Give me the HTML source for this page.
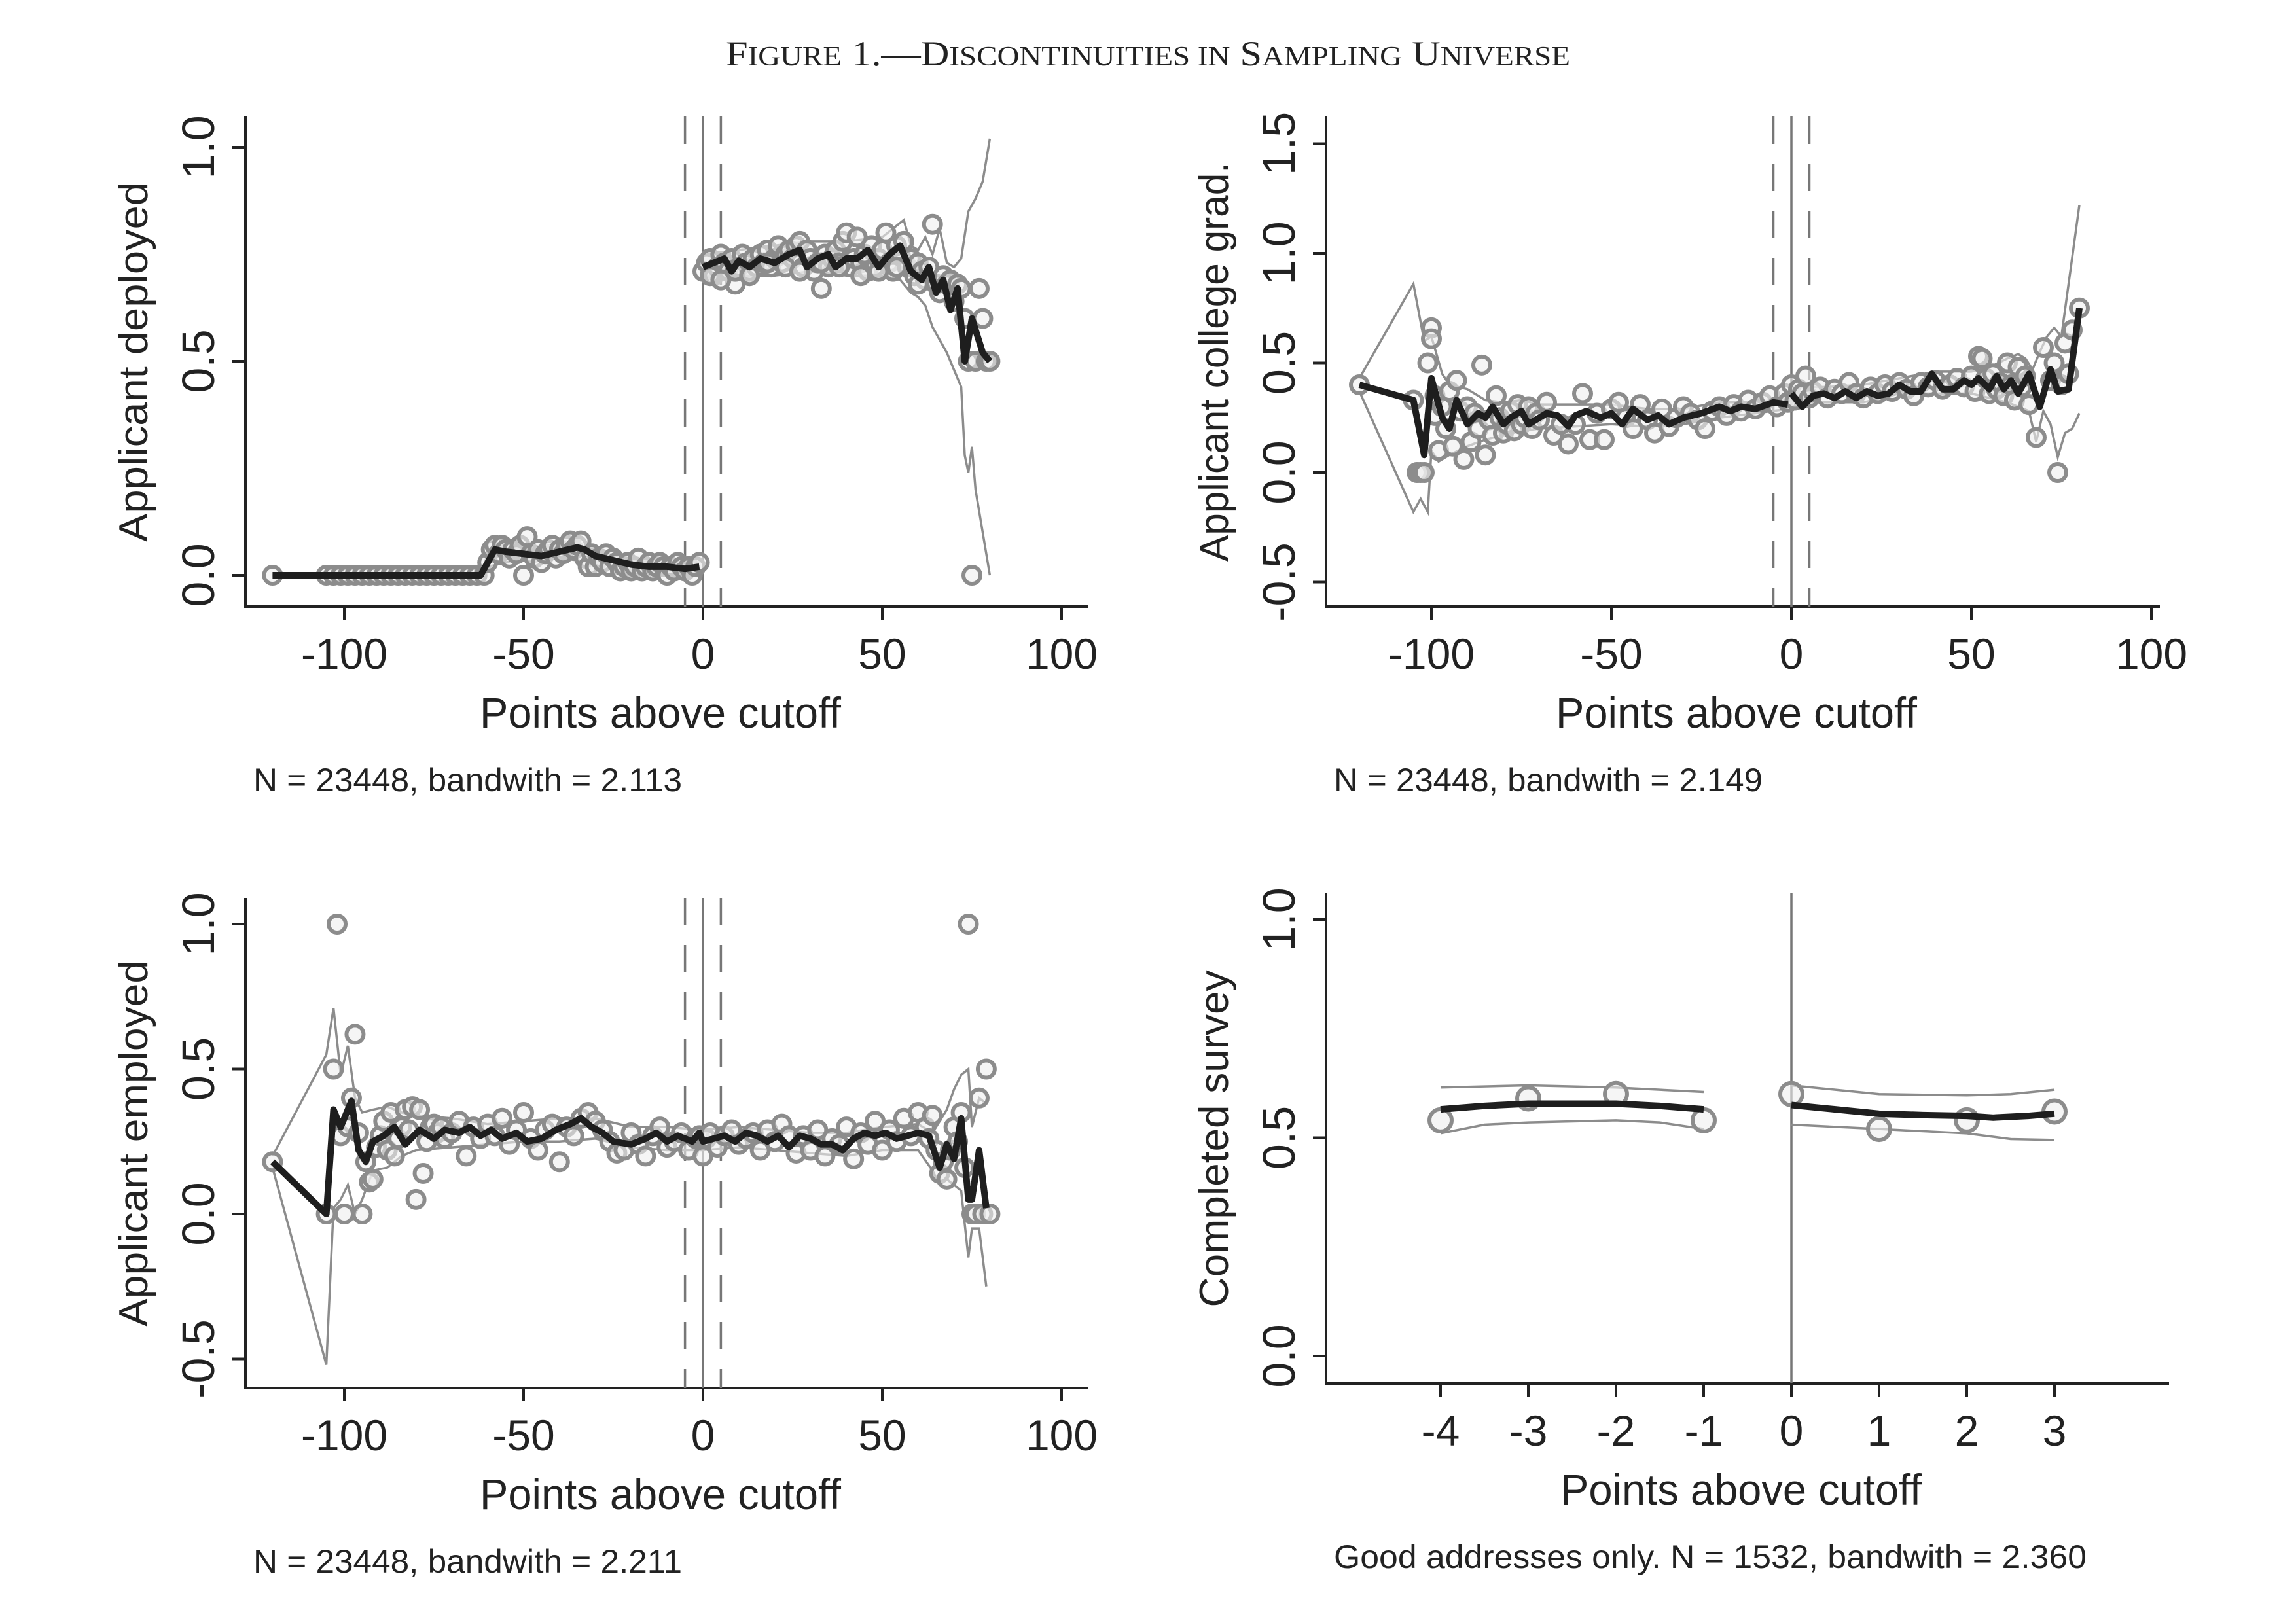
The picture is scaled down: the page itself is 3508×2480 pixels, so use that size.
<!DOCTYPE html>
<html><head><meta charset="utf-8"><title>Figure 1 — Discontinuities in Sampling Universe</title>
<style>
html,body{margin:0;padding:0;background:#fff;}
svg{display:block;}
text{fill:#222;}
.tk{font-family:"Liberation Sans Narrow","Liberation Sans",sans-serif;font-size:66px;}
.ytk{font-family:"Liberation Sans",sans-serif;font-size:70px;}
.yt{font-family:"Liberation Sans",sans-serif;font-size:62px;}
.at{font-family:"Liberation Sans Narrow","Liberation Sans",sans-serif;font-size:66px;}
.nt{font-family:"Liberation Sans Narrow","Liberation Sans",sans-serif;font-size:50px;}
</style></head>
<body>
<svg id="fig" width="3508" height="2480" viewBox="0 0 3508 2480" xmlns="http://www.w3.org/2000/svg">
<text x="1754" y="100" text-anchor="middle" font-family="'Liberation Serif',serif" font-size="54" textLength="1290" lengthAdjust="spacingAndGlyphs">F<tspan font-size="42">IGURE</tspan> 1.—D<tspan font-size="42">ISCONTINUITIES IN</tspan> S<tspan font-size="42">AMPLING</tspan> U<tspan font-size="42">NIVERSE</tspan></text>
</svg>
<script>
// ---------- Panel 1: Applicant deployed ----------
const p1ScatterX = [-120,-105,-103,-101,-99,-97,-95,-93,-91,-89,-87,-85,-83,-81,-79,-77,-75,-73,-71,-69,-67,-65,-63,-61,
 -60,-59,-58,-57,-56,-55,-54,-53,-52,-51,-50,-49,-48,-47,-46,-45,-44,-43,-42,-41,-40,-39,-38,-37,-36,-35,-34,-33,-32,-31,-30,-29,-28,-27,-26,-25,-24,-23,-22,-21,-20,-19,-18,-17,-16,-15,-14,-13,-12,-11,-10,-9,-8,-7,-6,-5,-4,-3,-2,-1,
 0,1,2,3,4,5,6,7,8,9,10,11,12,13,14,15,16,17,18,19,20,21,22,23,24,25,26,27,28,29,30,31,32,33,34,35,36,37,38,39,40,41,42,43,44,45,46,47,48,49,50,51,52,53,54,55,56,57,58,59,60,61,62,63,64,65,66,67,68,69,70,71,72,73,74,75,76,77,78,79,80,
 2,5,9,13,18,23,27,33,38,44,49,54,60];
const p1ScatterY = [0,0,0,0,0,0,0,0,0,0,0,0,0,0,0,0,0,0,0,0,0,0,0,0,
 0.03,0.06,0.07,0.05,0.07,0.06,0.04,0.06,0.05,0.07,0.0,0.09,0.05,0.04,0.06,0.03,0.05,0.06,0.07,0.04,0.06,0.05,0.07,0.08,0.06,0.07,0.08,0.04,0.02,0.05,0.02,0.04,0.03,0.05,0.02,0.04,0.03,0.01,0.02,0.03,0.01,0.02,0.04,0.01,0.02,0.03,0.01,0.02,0.03,0.02,0.0,0.02,0.01,0.03,0.02,0.01,0.02,0.0,0.02,0.03,
 0.71,0.73,0.74,0.70,0.72,0.75,0.73,0.71,0.74,0.68,0.72,0.75,0.73,0.71,0.74,0.72,0.75,0.73,0.76,0.72,0.74,0.77,0.73,0.75,0.76,0.74,0.77,0.78,0.72,0.76,0.74,0.71,0.73,0.67,0.75,0.72,0.74,0.76,0.73,0.78,0.80,0.72,0.74,0.79,0.73,0.75,0.71,0.77,0.72,0.74,0.76,0.80,0.73,0.71,0.77,0.75,0.78,0.72,0.74,0.70,0.73,0.71,0.69,0.72,0.82,0.68,0.66,0.70,0.68,0.69,0.64,0.68,0.67,0.60,0.50,0.00,0.50,0.67,0.60,0.50,0.50,
 0.70,0.69,0.71,0.70,0.73,0.72,0.71,0.73,0.72,0.70,0.71,0.72,0.68];
const p1MeanLX = [-120,-62,-60,-58,-55,-50,-45,-40,-35,-33,-30,-25,-20,-15,-10,-5,-1];
const p1MeanLY = [0,0,0.03,0.06,0.055,0.05,0.045,0.055,0.065,0.06,0.045,0.035,0.025,0.02,0.02,0.015,0.02];
const p1MeanRX = [0,3,6,8,10,13,16,20,24,27,29,32,35,37,40,43,46,49,52,55,58,61,63,65,67,69,71,73,75,78,80];
const p1MeanRY = [0.72,0.73,0.74,0.71,0.735,0.72,0.74,0.73,0.75,0.76,0.72,0.74,0.75,0.72,0.74,0.74,0.76,0.72,0.75,0.77,0.71,0.69,0.72,0.66,0.69,0.62,0.67,0.50,0.60,0.52,0.50];
const p1HiRX = [0,10,20,30,40,50,56,58,60,62,64,66,68,70,72,74,76,78,80];
const p1HiRY = [0.75,0.76,0.77,0.78,0.78,0.79,0.83,0.77,0.76,0.79,0.75,0.81,0.73,0.72,0.74,0.85,0.88,0.92,1.02];
const p1LoRX = [0,10,20,30,40,50,55,58,60,62,64,66,68,70,72,73,74,75,76,78,80];
const p1LoRY = [0.69,0.70,0.70,0.71,0.70,0.70,0.69,0.66,0.65,0.63,0.58,0.55,0.52,0.48,0.44,0.28,0.24,0.30,0.20,0.10,0.00];
const p1LoLX = [-120,-62,-60,-50,-40,-30,-20,-10,-1];
const p1LoLY = [0,0,0.02,0.04,0.04,0.03,0.015,0.01,0.01];
const p1HiLX = [-120,-62,-60,-50,-40,-30,-20,-10,-1];
const p1HiLY = [0,0,0.05,0.065,0.07,0.06,0.035,0.03,0.03];

// ---------- Panel 2: Applicant college grad ----------
const p2ScatterX = [-120,-105,-104,-103,-102,-101,-100,-100,-99,-99,-98,-97,-96,-95,-94,-93,-92,-91,-90,-89,-88,-87,-86,-85,-84,-83,-82,-81,-80,-79,-78,-77,-76,-75,-74,-73,-72,-71,-70,-68,-66,-64,-62,-60,-58,-56,-54,-52,-50,-48,-46,-44,-42,-40,-38,-36,-34,-32,-30,-28,-26,-24,-22,-20,-18,-16,-14,-12,-10,-8,-6,-4,-2,-1,
 0,1,2,3,4,5,6,8,10,12,14,16,18,20,22,24,26,28,30,32,34,36,38,40,42,44,46,48,50,51,52,53,54,55,56,57,58,59,60,61,62,63,64,65,66,68,70,72,73,74,75,76,77,78,80];
const p2ScatterY = [0.40,0.33,0.0,0.0,0.0,0.50,0.66,0.61,0.26,0.35,0.10,0.30,0.20,0.37,0.12,0.42,0.28,0.06,0.30,0.14,0.27,0.20,0.49,0.08,0.24,0.17,0.35,0.25,0.18,0.22,0.28,0.19,0.31,0.22,0.25,0.30,0.20,0.27,0.24,0.32,0.17,0.22,0.13,0.22,0.36,0.15,0.27,0.15,0.29,0.32,0.25,0.20,0.31,0.24,0.18,0.29,0.21,0.25,0.30,0.27,0.24,0.20,0.28,0.30,0.26,0.31,0.28,0.33,0.29,0.32,0.35,0.30,0.36,0.32,
 0.40,0.33,0.38,0.36,0.44,0.34,0.37,0.39,0.34,0.38,0.36,0.41,0.36,0.34,0.39,0.36,0.40,0.37,0.41,0.38,0.35,0.41,0.39,0.42,0.38,0.40,0.43,0.39,0.44,0.37,0.53,0.52,0.43,0.36,0.45,0.38,0.41,0.35,0.50,0.40,0.33,0.48,0.39,0.44,0.31,0.16,0.57,0.42,0.50,0.0,0.40,0.59,0.45,0.65,0.75];
const p2MeanLX = [-120,-105,-102,-100,-97,-95,-93,-90,-87,-85,-83,-80,-78,-75,-73,-70,-68,-65,-62,-60,-57,-53,-50,-47,-44,-40,-37,-34,-30,-25,-20,-17,-14,-10,-5,-1];
const p2MeanLY = [0.40,0.33,0.08,0.43,0.25,0.20,0.33,0.22,0.27,0.25,0.30,0.22,0.25,0.28,0.22,0.25,0.27,0.26,0.21,0.26,0.28,0.25,0.27,0.22,0.29,0.24,0.26,0.22,0.25,0.27,0.30,0.28,0.30,0.29,0.32,0.31];
const p2MeanRX = [0,3,6,9,12,15,18,21,24,27,30,33,36,39,42,45,48,50,52,55,57,59,61,63,66,69,72,74,77,80];
const p2MeanRY = [0.36,0.30,0.35,0.36,0.34,0.37,0.34,0.37,0.35,0.36,0.40,0.37,0.37,0.45,0.38,0.38,0.42,0.40,0.43,0.38,0.44,0.38,0.42,0.36,0.45,0.30,0.47,0.37,0.38,0.75];
const p2HiLX = [-120,-105,-102,-100,-97,-95,-90,-85,-80,-75,-70,-60,-50,-40,-30,-20,-10,-1];
const p2HiLY = [0.43,0.86,0.60,0.62,0.45,0.40,0.38,0.33,0.32,0.33,0.31,0.31,0.31,0.29,0.29,0.32,0.32,0.34];
const p2LoLX = [-120,-105,-103,-101,-100,-98,-95,-90,-85,-80,-75,-70,-60,-50,-40,-30,-20,-10,-1];
const p2LoLY = [0.37,-0.18,-0.12,-0.18,0.10,0.05,0.08,0.12,0.15,0.17,0.19,0.20,0.21,0.22,0.21,0.22,0.25,0.27,0.29];
const p2HiRX = [0,10,20,30,40,50,55,60,63,65,67,69,71,73,75,80];
const p2HiRY = [0.39,0.39,0.40,0.43,0.46,0.46,0.48,0.52,0.54,0.52,0.47,0.55,0.62,0.66,0.62,1.22];
const p2LoRX = [0,10,20,30,40,50,55,60,63,66,68,70,72,74,76,78,80];
const p2LoRY = [0.32,0.32,0.32,0.36,0.36,0.36,0.34,0.32,0.30,0.28,0.14,0.28,0.22,0.07,0.18,0.20,0.27];

// ---------- Panel 3: Applicant employed ----------
const p3ScatterX = [-120,-105,-103,-102,-101,-100,-99,-98,-97,-96,-95,-94,-93,-92,-91,-90,-89,-88,-87,-86,-85,-84,-83,-82,-81,-80,-79,-78,-77,-76,-75,-74,-73,-72,-70,-68,-66,-64,-62,-60,-58,-56,-54,-52,-50,-48,-46,-44,-42,-40,-38,-36,-34,-32,-30,-28,-26,-24,-22,-20,-18,-16,-14,-12,-10,-8,-6,-4,-2,-1,
 0,1,2,4,6,8,10,12,14,16,18,20,22,24,26,28,30,32,34,36,38,40,42,44,46,48,50,52,54,56,58,60,62,63,64,65,66,67,68,69,70,71,72,73,74,75,76,77,78,79,80];
const p3ScatterY = [0.18,0.0,0.50,1.00,0.27,0.0,0.30,0.40,0.62,0.28,0.0,0.18,0.11,0.12,0.23,0.27,0.32,0.22,0.35,0.20,0.26,0.30,0.36,0.29,0.37,0.05,0.36,0.14,0.25,0.30,0.31,0.28,0.30,0.26,0.28,0.32,0.20,0.30,0.26,0.31,0.27,0.33,0.24,0.29,0.35,0.26,0.22,0.29,0.31,0.18,0.30,0.27,0.33,0.35,0.32,0.29,0.25,0.21,0.22,0.28,0.24,0.20,0.27,0.30,0.23,0.25,0.28,0.22,0.26,0.27,
 0.20,0.26,0.28,0.23,0.27,0.29,0.24,0.26,0.28,0.22,0.29,0.25,0.31,0.27,0.21,0.27,0.22,0.29,0.20,0.26,0.24,0.30,0.19,0.28,0.24,0.32,0.22,0.29,0.25,0.33,0.27,0.35,0.30,0.26,0.34,0.22,0.14,0.18,0.12,0.22,0.30,0.25,0.35,0.16,1.00,0.0,0.0,0.40,0.0,0.50,0.0];
const p3MeanX = [-120,-105,-103,-101,-98,-96,-94,-92,-89,-86,-83,-79,-75,-72,-68,-65,-62,-59,-56,-52,-49,-45,-41,-37,-34,-31,-28,-25,-20,-16,-13,-10,-7,-3,-1,0,3,6,9,12,15,18,21,24,27,30,33,36,39,42,45,48,51,54,57,60,63,66,68,70,72,74,75,77,79];
const p3MeanY = [0.18,0.0,0.36,0.30,0.39,0.22,0.18,0.25,0.27,0.30,0.24,0.29,0.26,0.29,0.28,0.30,0.27,0.29,0.26,0.28,0.25,0.26,0.29,0.31,0.33,0.30,0.28,0.25,0.24,0.26,0.28,0.25,0.27,0.25,0.28,0.25,0.26,0.27,0.25,0.28,0.27,0.25,0.27,0.23,0.27,0.26,0.24,0.24,0.22,0.26,0.28,0.27,0.28,0.26,0.27,0.28,0.27,0.16,0.24,0.19,0.33,0.05,0.05,0.22,0.02];
const p3HiX = [-120,-105,-103,-101,-99,-97,-95,-92,-88,-84,-80,-70,-60,-50,-40,-30,-20,-10,0,10,20,30,40,50,60,64,66,68,70,72,74,75,77,79];
const p3HiY = [0.20,0.55,0.71,0.48,0.58,0.40,0.35,0.36,0.37,0.35,0.34,0.33,0.31,0.32,0.33,0.33,0.30,0.30,0.29,0.30,0.29,0.28,0.28,0.30,0.31,0.28,0.32,0.36,0.43,0.48,0.50,0.30,0.40,0.38];
const p3LoX = [-120,-105,-103,-101,-99,-97,-95,-92,-88,-84,-80,-70,-60,-50,-40,-30,-20,-10,0,10,20,30,40,50,60,64,66,68,70,72,74,75,77,79];
const p3LoY = [0.16,-0.52,0.02,0.05,0.10,0.0,0.05,0.15,0.16,0.20,0.22,0.23,0.24,0.25,0.25,0.26,0.23,0.22,0.22,0.23,0.22,0.21,0.20,0.22,0.22,0.15,0.10,0.12,0.10,0.08,-0.15,-0.05,-0.05,-0.25];

// ---------- Panel 4: Completed survey ----------
const p4ScatterX = [-4,-3,-2,-1,0,1,2,3];
const p4ScatterY = [0.54,0.59,0.60,0.54,0.60,0.52,0.54,0.56];
const p4MeanLX = [-4,-3.5,-3,-2.5,-2,-1.5,-1];
const p4MeanLY = [0.565,0.573,0.578,0.578,0.578,0.573,0.565];
const p4MeanRX = [0,0.5,1,1.5,2,2.3,2.7,3];
const p4MeanRY = [0.575,0.565,0.555,0.552,0.550,0.546,0.550,0.555];
const p4HiLX = [-4,-3,-2,-1];  const p4HiLY = [0.615,0.62,0.615,0.605];
const p4LoLX = [-4,-3.5,-3,-2,-1.5,-1]; const p4LoLY = [0.51,0.53,0.535,0.54,0.535,0.52];
const p4HiRX = [0,1,2,2.5,3]; const p4HiRY = [0.62,0.60,0.597,0.60,0.61];
const p4LoRX = [0,1,2,2.5,3]; const p4LoRY = [0.53,0.52,0.51,0.497,0.495];

// ---------- tick labels ----------
const xTicksWide = [-100,-50,0,50,100];
const xTicksSmall = [-4,-3,-2,-1,0,1,2,3];
const yTicksA = ["0.0","0.5","1.0"];
const yTicksB = ["-0.5","0.0","0.5","1.0","1.5"];
const yTicksC = ["-0.5","0.0","0.5","1.0"];

const NS = "http://www.w3.org/2000/svg";
const svg = document.getElementById('fig');
function mk(tag, attrs, parent){
  const e = document.createElementNS(NS, tag);
  for (const k in attrs) e.setAttribute(k, attrs[k]);
  (parent||svg).appendChild(e);
  return e;
}

function panel(cfg){
  const g = mk('g', {});
  
  
  const X = v => cfg.x0 + cfg.xs * v;
  const Y = v => cfg.y0 - cfg.ys * v;
  const ya = mk('line', {x1:cfg.ax, y1:cfg.top, x2:cfg.ax, y2:cfg.axy, stroke:'#222','stroke-width':4}, g);
  
  
  const xa = mk('line', {x1:cfg.ax-2, y1:cfg.axy, x2:cfg.right, y2:cfg.axy, stroke:'#222','stroke-width':4}, g);
  
  
  cfg.yt.forEach(t => {
    const yy = Y(parseFloat(t));
    mk('line', {x1:cfg.ax-20, y1:yy, x2:cfg.ax, y2:yy, stroke:'#222','stroke-width':4}, g);
    const lx = cfg.ax-48;
    const tx = mk('text', {x:lx, y:yy, class:'ytk','text-anchor':'middle',transform:`rotate(-90 ${lx} ${yy})`}, g);
    
    
    tx.textContent = t;
  });
  cfg.xt.forEach(t => {
    const xx = X(t);
    mk('line', {x1:xx, y1:cfg.axy, x2:xx, y2:cfg.axy+20, stroke:'#222','stroke-width':4}, g);
    const tx = mk('text', {x:xx, y:cfg.axy+95, class:'tk','text-anchor':'middle'}, g);
    
    
    tx.textContent = t;
  });
  const xt = mk('text', {x:(cfg.ax+cfg.right)/2-10, y:cfg.axy+185, class:'at','text-anchor':'middle',textLength:552,lengthAdjust:'spacingAndGlyphs'}, g);
  
  
  xt.textContent = 'Points above cutoff';
  const ycx = cfg.ax-150, ycy = cfg.ylabY;
  const yt = mk('text', {x:ycx, y:ycy, class:'yt','text-anchor':'middle',transform:`rotate(-90 ${ycx} ${ycy})`,textLength:cfg.ylabLen,lengthAdjust:'spacingAndGlyphs'}, g);
  
  
  yt.textContent = cfg.ylab;
  const nt = mk('text', {x:cfg.ax+12, y:cfg.axy+282, class:'nt',textLength:cfg.noteLen,lengthAdjust:'spacingAndGlyphs'}, g);
  
  
  nt.textContent = cfg.note;
  const cl = mk('line', {x1:X(0), y1:cfg.top, x2:X(0), y2:cfg.axy, stroke:'#777','stroke-width':3.5}, g);
  
  
  if (cfg.dash) [-5,5].forEach(d => {
    const dl = mk('line', {x1:X(d), y1:cfg.top, x2:X(d), y2:cfg.axy, stroke:'#777','stroke-width':3.5,'stroke-dasharray':'42 30'}, g);
    
    
  });
  cfg.bands.forEach(b => {
    const p = mk('polyline', {points:b[0].map((v,i)=>X(v)+','+Y(b[1][i])).join(' '), fill:'none', stroke:'#8c8c8c','stroke-width':3.5}, g);
    
    
  });
  cfg.sx.forEach((v,i) => {
    const c = mk('circle', {cx:X(v), cy:Y(cfg.sy[i]), r:cfg.r, fill:'#eeeeee', 'fill-opacity':0.6, stroke:'#8c8c8c','stroke-width':6}, g);
    
    
  });
  cfg.means.forEach(m => {
    const p = mk('polyline', {points:m[0].map((v,i)=>X(v)+','+Y(m[1][i])).join(' '), fill:'none', stroke:'#1e1e1e','stroke-width':10,'stroke-linejoin':'round'}, g);
    
    
  });
}

panel({name:'panel-applicant-deployed', ax:375, top:178, axy:927, right:1663, x0:1074, xs:5.48, y0:879, ys:654,
  yt:yTicksA, xt:xTicksWide, ylab:'Applicant deployed', ylabY:553, ylabLen:550, note:'N = 23448, bandwith = 2.113', noteLen:655, dash:true, r:13,
  sx:p1ScatterX, sy:p1ScatterY,
  bands:[[p1HiRX,p1HiRY],[p1LoRX,p1LoRY],[p1HiLX,p1HiLY],[p1LoLX,p1LoLY]],
  means:[[p1MeanLX,p1MeanLY],[p1MeanRX,p1MeanRY]]});

panel({name:'panel-college-grad', ax:2026, top:178, axy:927, right:3300, x0:2737, xs:5.5, y0:722, ys:335,
  yt:yTicksB, xt:xTicksWide, ylab:'Applicant college grad.', ylabY:553, ylabLen:610, note:'N = 23448, bandwith = 2.149', noteLen:655, dash:true, r:13,
  sx:p2ScatterX, sy:p2ScatterY,
  bands:[[p2HiLX,p2HiLY],[p2LoLX,p2LoLY],[p2HiRX,p2HiRY],[p2LoRX,p2LoRY]],
  means:[[p2MeanLX,p2MeanLY],[p2MeanRX,p2MeanRY]]});

panel({name:'panel-applicant-employed', ax:375, top:1372, axy:2121, right:1663, x0:1074, xs:5.48, y0:1855, ys:443,
  yt:yTicksC, xt:xTicksWide, ylab:'Applicant employed', ylabY:1747, ylabLen:560, note:'N = 23448, bandwith = 2.211', noteLen:655, dash:true, r:13,
  sx:p3ScatterX, sy:p3ScatterY,
  bands:[[p3HiX,p3HiY],[p3LoX,p3LoY]],
  means:[[p3MeanX,p3MeanY]]});

panel({name:'panel-completed-survey', ax:2026, top:1364, axy:2114, right:3314, x0:2737, xs:134, y0:2072, ys:667,
  yt:yTicksA, xt:xTicksSmall, ylab:'Completed survey', ylabY:1740, ylabLen:515, note:'Good addresses only. N = 1532, bandwith = 2.360', noteLen:1150, dash:false, r:17,
  sx:p4ScatterX, sy:p4ScatterY,
  bands:[[p4HiLX,p4HiLY],[p4LoLX,p4LoLY],[p4HiRX,p4HiRY],[p4LoRX,p4LoRY]],
  means:[[p4MeanLX,p4MeanLY],[p4MeanRX,p4MeanRY]]});
</script>
</body></html>
